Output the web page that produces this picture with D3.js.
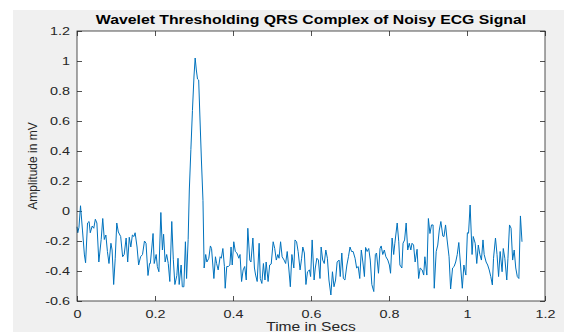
<!DOCTYPE html>
<html>
<head>
<meta charset="utf-8">
<script src="https://cdn.jsdelivr.net/npm/d3@7"></script>
<style>
  body { margin: 0; background: #fff; }
  text { font-family: "Liberation Sans", Arial, sans-serif; }
</style>
</head>
<body>
<div id="chart"></div>
<script>
// Signal samples (time in s, amplitude in mV)
const timeSecs = [
  0.000, 0.002, 0.005, 0.009, 0.014, 0.019, 0.022, 0.027, 0.031, 0.034,
  0.039, 0.043, 0.047, 0.051, 0.056, 0.062, 0.066, 0.070, 0.074, 0.078,
  0.082, 0.087, 0.090, 0.094, 0.098, 0.102, 0.106, 0.112, 0.117, 0.121,
  0.126, 0.130, 0.134, 0.138, 0.142, 0.146, 0.149, 0.154, 0.158, 0.163,
  0.168, 0.173, 0.177, 0.182, 0.186, 0.188, 0.192, 0.195, 0.198, 0.203,
  0.206, 0.210, 0.215, 0.219, 0.222, 0.226, 0.230, 0.234, 0.238, 0.243,
  0.247, 0.251, 0.256, 0.259, 0.262, 0.267, 0.270, 0.274, 0.278, 0.281,
  0.285, 0.288, 0.292, 0.296, 0.300, 0.303, 0.306, 0.309, 0.312, 0.315,
  0.319, 0.323, 0.326, 0.330, 0.333, 0.338, 0.342, 0.345, 0.351, 0.355,
  0.358, 0.362, 0.367, 0.370, 0.374, 0.378, 0.380, 0.384, 0.388, 0.392,
  0.395, 0.398, 0.402, 0.406, 0.410, 0.415, 0.418, 0.422, 0.426, 0.430,
  0.434, 0.438, 0.443, 0.446, 0.451, 0.455, 0.458, 0.462, 0.467, 0.470,
  0.474, 0.478, 0.482, 0.485, 0.490, 0.494, 0.498, 0.503, 0.507, 0.511,
  0.515, 0.518, 0.522, 0.526, 0.531, 0.535, 0.539, 0.543, 0.547, 0.551,
  0.556, 0.559, 0.563, 0.567, 0.572, 0.576, 0.579, 0.583, 0.587, 0.591,
  0.596, 0.599, 0.603, 0.608, 0.611, 0.615, 0.619, 0.623, 0.626, 0.630,
  0.634, 0.638, 0.642, 0.646, 0.651, 0.655, 0.659, 0.663, 0.667, 0.672,
  0.675, 0.679, 0.683, 0.687, 0.692, 0.696, 0.700, 0.704, 0.708, 0.713,
  0.717, 0.721, 0.725, 0.729, 0.733, 0.737, 0.740, 0.744, 0.748, 0.752,
  0.756, 0.761, 0.765, 0.768, 0.773, 0.777, 0.780, 0.784, 0.788, 0.792,
  0.797, 0.801, 0.804, 0.808, 0.812, 0.815, 0.821, 0.825, 0.828, 0.833,
  0.836, 0.840, 0.844, 0.848, 0.852, 0.856, 0.859, 0.863, 0.867, 0.872,
  0.876, 0.880, 0.885, 0.889, 0.892, 0.897, 0.901, 0.905, 0.909, 0.913,
  0.916, 0.921, 0.925, 0.929, 0.933, 0.938, 0.941, 0.945, 0.949, 0.954,
  0.958, 0.963, 0.967, 0.971, 0.975, 0.979, 0.984, 0.988, 0.992, 0.997,
  1.001, 1.004, 1.008, 1.013, 1.016, 1.021, 1.025, 1.029, 1.033, 1.037,
  1.041, 1.044, 1.049, 1.053, 1.057, 1.061, 1.065, 1.068, 1.073, 1.077,
  1.081, 1.085, 1.090, 1.093, 1.097, 1.102, 1.105, 1.109, 1.113, 1.117,
  1.121, 1.125, 1.129, 1.133, 1.137, 1.141
];

const amplitudeMv = [
  -0.105, -0.145, -0.110, 0.035, -0.127, -0.293, -0.345, -0.080, -0.070, -0.145,
  -0.100, -0.115, -0.055, -0.080, -0.340, -0.190, -0.050, -0.190, -0.160, -0.270,
  -0.350, -0.215, -0.260, -0.490, -0.315, -0.080, -0.140, -0.170, -0.305, -0.290,
  -0.180, -0.340, -0.175, -0.240, -0.160, -0.170, -0.145, -0.240, -0.360, -0.305,
  -0.290, -0.200, -0.215, -0.430, -0.350, -0.350, -0.240, -0.150, -0.350, -0.290,
  -0.370, -0.405, -0.010, -0.260, -0.155, -0.340, -0.290, -0.350, -0.470, -0.070,
  -0.325, -0.490, -0.430, -0.315, -0.490, -0.360, -0.505, -0.505, -0.205, -0.450,
  -0.190, 0.140, 0.410, 0.670, 0.900, 1.020, 0.940, 0.880, 0.873, 0.640,
  0.340, 0.070, -0.380, -0.290, -0.340, -0.315, -0.233, -0.250, -0.450, -0.305,
  -0.350, -0.393, -0.305, -0.315, -0.250, -0.370, -0.515, -0.370, -0.370, -0.360,
  -0.240, -0.360, -0.205, -0.270, -0.280, -0.315, -0.290, -0.470, -0.393, -0.370,
  -0.460, -0.115, -0.327, -0.340, -0.180, -0.380, -0.427, -0.470, -0.215, -0.450,
  -0.483, -0.350, -0.460, -0.340, -0.470, -0.360, -0.353, -0.205, -0.250, -0.327,
  -0.290, -0.315, -0.205, -0.305, -0.327, -0.350, -0.270, -0.380, -0.505, -0.290,
  -0.380, -0.193, -0.205, -0.270, -0.393, -0.315, -0.240, -0.280, -0.490, -0.405,
  -0.393, -0.437, -0.193, -0.460, -0.380, -0.315, -0.327, -0.450, -0.240, -0.327,
  -0.350, -0.260, -0.315, -0.460, -0.560, -0.405, -0.505, -0.460, -0.340, -0.327,
  -0.437, -0.280, -0.450, -0.460, -0.360, -0.305, -0.240, -0.270, -0.270, -0.315,
  -0.380, -0.370, -0.450, -0.260, -0.340, -0.437, -0.243, -0.270, -0.250, -0.327,
  -0.490, -0.537, -0.290, -0.280, -0.415, -0.250, -0.233, -0.290, -0.260, -0.305,
  -0.327, -0.360, -0.415, -0.180, -0.290, -0.215, -0.080, -0.205, -0.360, -0.380,
  -0.215, -0.193, -0.080, -0.260, -0.215, -0.260, -0.215, -0.227, -0.340, -0.255,
  -0.450, -0.380, -0.393, -0.427, -0.305, -0.427, -0.050, -0.150, -0.093, -0.093,
  -0.515, -0.270, -0.227, -0.127, -0.070, -0.167, -0.170, -0.093, -0.193, -0.305,
  -0.520, -0.380, -0.370, -0.340, -0.290, -0.210, -0.380, -0.515, -0.360, -0.427,
  -0.145, -0.148, 0.040, -0.290, -0.170, -0.215, -0.350, -0.227, -0.290, -0.327,
  -0.193, -0.290, -0.340, -0.360, -0.393, -0.437, -0.493, -0.315, -0.180, -0.290,
  -0.437, -0.270, -0.405, -0.250, -0.315, -0.460, -0.315, -0.093, -0.115, -0.327,
  -0.260, -0.380, -0.437, -0.450, -0.033, -0.205
];

const xTicks = [0, 0.2, 0.4, 0.6, 0.8, 1, 1.2];
const yTicks = [-0.6, -0.4, -0.2, 0, 0.2, 0.4, 0.6, 0.8, 1, 1.2];

const width = 564, height = 332;
const margin = { top: 31, right: 19, bottom: 31, left: 77 };
const innerW = width - margin.left - margin.right;
const innerH = height - margin.top - margin.bottom;
const axisColor = "#262626";

const svg = d3.select("#chart").append("svg")
  .attr("width", width)
  .attr("height", height);

// figure background (MATLAB grey)
svg.append("rect")
  .attr("x", 13).attr("y", 10)
  .attr("width", width - 13).attr("height", height - 10)
  .attr("fill", "#f0f0f0");

const g = svg.append("g")
  .attr("transform", `translate(${margin.left},${margin.top})`);

g.append("rect")
  .attr("width", innerW).attr("height", innerH)
  .attr("fill", "#fff");

const x = d3.scaleLinear().domain([0, 1.2]).range([0, innerW]);
const y = d3.scaleLinear().domain([-0.6, 1.2]).range([innerH, 0]);

const fmt = (d) => (Math.round(d * 10) / 10).toString();

// the screenshot is a bit wider than tall, so horizontal text is stretched
function stretch(sel, k) {
  sel.each(function () {
    const w = this.getComputedTextLength();
    d3.select(this)
      .attr("textLength", w * k)
      .attr("lengthAdjust", "spacingAndGlyphs");
  });
}

function styleAxis(sel, hideLabels) {
  sel.select(".domain").remove();
  sel.selectAll("line").attr("stroke", axisColor).attr("stroke-width", 0.8);
  sel.selectAll("text")
    .attr("fill", axisColor)
    .style("font-size", "11.5px");
  if (hideLabels) sel.selectAll("text").remove();
  else stretch(sel.selectAll("text"), 1.25);
}

// bottom & left axes, ticks pointing inward
g.append("g")
  .attr("transform", `translate(0,${innerH})`)
  .call(d3.axisBottom(x).tickValues(xTicks).tickFormat(fmt).tickSizeInner(-5).tickSizeOuter(0).tickPadding(9))
  .call((s) => styleAxis(s, false));

g.append("g")
  .call(d3.axisLeft(y).tickValues(yTicks).tickFormat(fmt).tickSizeInner(-5).tickSizeOuter(0).tickPadding(7))
  .call((s) => styleAxis(s, false));

// top & right mirror ticks (box on)
g.append("g")
  .call(d3.axisTop(x).tickValues(xTicks).tickSizeInner(-5).tickSizeOuter(0))
  .call((s) => styleAxis(s, true));

g.append("g")
  .attr("transform", `translate(${innerW},0)`)
  .call(d3.axisRight(y).tickValues(yTicks).tickSizeInner(-5).tickSizeOuter(0))
  .call((s) => styleAxis(s, true));

// signal line
const line = d3.line()
  .x((d, i) => x(timeSecs[i]))
  .y((d) => y(d));

g.append("path")
  .datum(amplitudeMv)
  .attr("fill", "none")
  .attr("stroke", "#0072bd")
  .attr("stroke-width", 1)
  .attr("stroke-linejoin", "round")
  .attr("d", line);

// axes box
g.append("rect")
  .attr("width", innerW).attr("height", innerH)
  .attr("fill", "none")
  .attr("stroke", axisColor)
  .attr("stroke-width", 0.8);

// title and labels
svg.append("text")
  .attr("x", margin.left + innerW / 2)
  .attr("y", 24)
  .attr("text-anchor", "middle")
  .attr("font-weight", "bold")
  .style("font-size", "13.5px")
  .attr("fill", "#000")
  .text("Wavelet Thresholding QRS Complex of Noisy ECG Signal")
  .call((s) => stretch(s, 1.17));

svg.append("text")
  .attr("x", margin.left + innerW / 2)
  .attr("y", 331)
  .attr("text-anchor", "middle")
  .style("font-size", "12px")
  .attr("fill", axisColor)
  .text("Time in Secs")
  .call((s) => stretch(s, 1.3));

svg.append("text")
  .attr("transform", `translate(37,${margin.top + innerH / 2}) rotate(-90)`)
  .attr("text-anchor", "middle")
  .style("font-size", "12px")
  .attr("fill", axisColor)
  .text("Amplitude in mV");
</script>
</body>
</html>
